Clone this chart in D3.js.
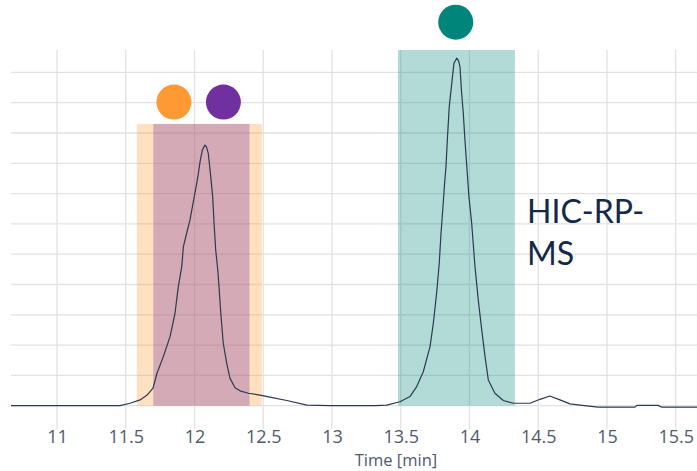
<!DOCTYPE html>
<html>
<head>
<meta charset="utf-8">
<script src="https://cdn.jsdelivr.net/npm/d3@7"></script>
<style>
body { margin: 0; background: #fff; }
</style>
</head>
<body>
<div id="chart"></div>
<script>

// retention time [min] and detector signal (one grid step = 1 unit)
var times = [10.665, 11.022, 11.458, 11.531, 11.604, 11.655, 11.698, 11.727, 11.773, 11.822,
    11.858, 11.882, 11.907, 11.919, 11.943, 11.967, 11.991, 12.016, 12.028, 12.040,
    12.057, 12.076, 12.087, 12.100, 12.118, 12.132, 12.142, 12.154, 12.169, 12.178,
    12.191, 12.209, 12.234, 12.258, 12.295, 12.331, 12.391, 12.476, 12.549, 12.671,
    12.818, 12.985, 13.313, 13.398, 13.495, 13.567, 13.616, 13.664, 13.713, 13.737,
    13.761, 13.780, 13.793, 13.809, 13.818, 13.829, 13.839, 13.853, 13.871, 13.887,
    13.907, 13.920, 13.931, 13.943, 13.955, 13.967, 13.984, 13.996, 14.016, 14.040,
    14.064, 14.089, 14.113, 14.137, 14.185, 14.246, 14.319, 14.440, 14.513, 14.585,
    14.658, 14.731, 14.804, 14.935, 15.204, 15.218, 15.371, 15.400, 15.655];
var signal = [0, 0, 0, 0.08, 0.19, 0.35, 0.58, 1.07, 1.62, 2.28,
    3.05, 3.93, 4.59, 5.25, 5.70, 6.13, 6.73, 7.34, 7.67, 8.05,
    8.44, 8.60, 8.54, 8.33, 7.56, 6.90, 6.02, 5.14, 4.48, 3.93,
    3.05, 2.06, 1.40, 0.90, 0.59, 0.49, 0.41, 0.35, 0.28, 0.17,
    0.02, 0, 0, 0.02, 0.13, 0.30, 0.63, 1.12, 1.95, 2.72,
    3.71, 4.70, 5.69, 6.68, 7.28, 7.89, 8.77, 9.87, 10.64, 11.30,
    11.47, 11.39, 11.19, 10.31, 9.65, 8.77, 7.67, 6.90, 6.02, 4.59,
    3.49, 2.50, 1.62, 0.85, 0.41, 0.17, 0.08, 0.08, 0.21, 0.32,
    0.19, 0.06, 0.02, -0.05, -0.05, 0.01, 0.01, -0.05, -0.05];

var xTicks = [11, 11.5, 12, 12.5, 13, 13.5, 14, 14.5, 15, 15.5];
var yGrid = [0, 1, 2, 3, 4, 5, 6, 7, 8, 9, 10, 11];

// collected fractions
var fractionNames = ["orange", "purple", "teal"];
var fractionStart = [11.58, 11.70, 13.48];
var fractionEnd = [12.49, 12.40, 14.33];
var fractionTop = [9.3, 9.3, 11.74];
var markerTime = [11.85, 12.21, 13.90];
var markerLevel = [10.02, 10.02, 12.66];

var labelLines = ["HIC-RP-", "MS"];


ChromChart = function(_parentElement){
    this.parentElement = _parentElement;
    this.initVis();
}

ChromChart.prototype.initVis = function(){
    var vis = this;

    vis.width = 697;
    vis.height = 471;
    vis.plot = { left: 11, right: 697, top: 50, bottom: 429 };

    vis.svg = d3.select("#" + vis.parentElement).append("svg")
        .attr("width", vis.width)
        .attr("height", vis.height)
        .style("font-family", "'Open Sans', sans-serif");

    vis.x = d3.scaleLinear()
        .domain([10.665, 15.655])
        .range([vis.plot.left, vis.plot.right]);
    vis.y = d3.scaleLinear()
        .domain([-0.77, 11.74])
        .range([vis.plot.bottom, vis.plot.top]);

    vis.color = d3.scaleOrdinal()
        .domain(fractionNames)
        .range(["#ff9933", "#7030a0", "#00857a"]);

    // grid
    vis.svg.append("g").selectAll("line")
        .data(yGrid)
        .enter().append("line")
        .attr("x1", vis.plot.left)
        .attr("x2", vis.plot.right)
        .attr("y1", d => vis.y(d))
        .attr("y2", d => vis.y(d))
        .attr("stroke", "#e2e2e2")
        .attr("stroke-width", 1.3);
    vis.svg.append("g").selectAll("line")
        .data(xTicks)
        .enter().append("line")
        .attr("x1", d => vis.x(d))
        .attr("x2", d => vis.x(d))
        .attr("y1", vis.plot.top)
        .attr("y2", vis.plot.bottom)
        .attr("stroke", "#e2e2e2")
        .attr("stroke-width", 1.3);

    // fraction windows
    vis.svg.append("g").selectAll("rect")
        .data(fractionNames)
        .enter().append("rect")
        .attr("x", (d, i) => vis.x(fractionStart[i]))
        .attr("width", (d, i) => vis.x(fractionEnd[i]) - vis.x(fractionStart[i]))
        .attr("y", (d, i) => vis.y(fractionTop[i]))
        .attr("height", (d, i) => vis.y(0) - vis.y(fractionTop[i]))
        .attr("fill", d => vis.color(d))
        .attr("fill-opacity", 0.3);

    // trace
    var line = d3.line()
        .x(d => vis.x(d[0]))
        .y(d => vis.y(d[1]));
    vis.svg.append("path")
        .datum(d3.zip(times, signal))
        .attr("d", line)
        .attr("fill", "none")
        .attr("stroke", "#2a3a4f")
        .attr("stroke-width", 1.2)
        .attr("stroke-linejoin", "round");

    // markers
    vis.svg.append("g").selectAll("circle")
        .data(fractionNames)
        .enter().append("circle")
        .attr("cx", (d, i) => vis.x(markerTime[i]))
        .attr("cy", (d, i) => vis.y(markerLevel[i]))
        .attr("r", 17.5)
        .attr("fill", d => vis.color(d));

    // x axis
    vis.xAxis = d3.axisBottom(vis.x)
        .tickValues(xTicks)
        .tickFormat(d3.format("~g"))
        .tickSize(0)
        .tickPadding(1.2);
    var gx = vis.svg.append("g")
        .attr("transform", "translate(0," + vis.plot.bottom + ")")
        .call(vis.xAxis);
    gx.select(".domain").remove();
    gx.selectAll("text")
        .attr("font-family", "'Open Sans', sans-serif")
        .attr("font-size", "18px")
        .attr("fill", "#4f5a6e");

    vis.svg.append("text")
        .attr("x", 396)
        .attr("y", 466.2)
        .attr("text-anchor", "middle")
        .attr("font-size", "16.5px")
        .attr("fill", "#4f5a6e")
        .text("Time [min]");

    // method label
    vis.svg.append("g").selectAll("text")
        .data(labelLines)
        .enter().append("text")
        .attr("x", 527)
        .attr("y", (d, i) => 222.7 + i * 42.5)
        .attr("font-family", "Lato, sans-serif")
        .attr("font-size", "32px")
        .attr("fill", "#14284b")
        .text(d => d);
}

var chart = new ChromChart("chart");

</script>
</body>
</html>
